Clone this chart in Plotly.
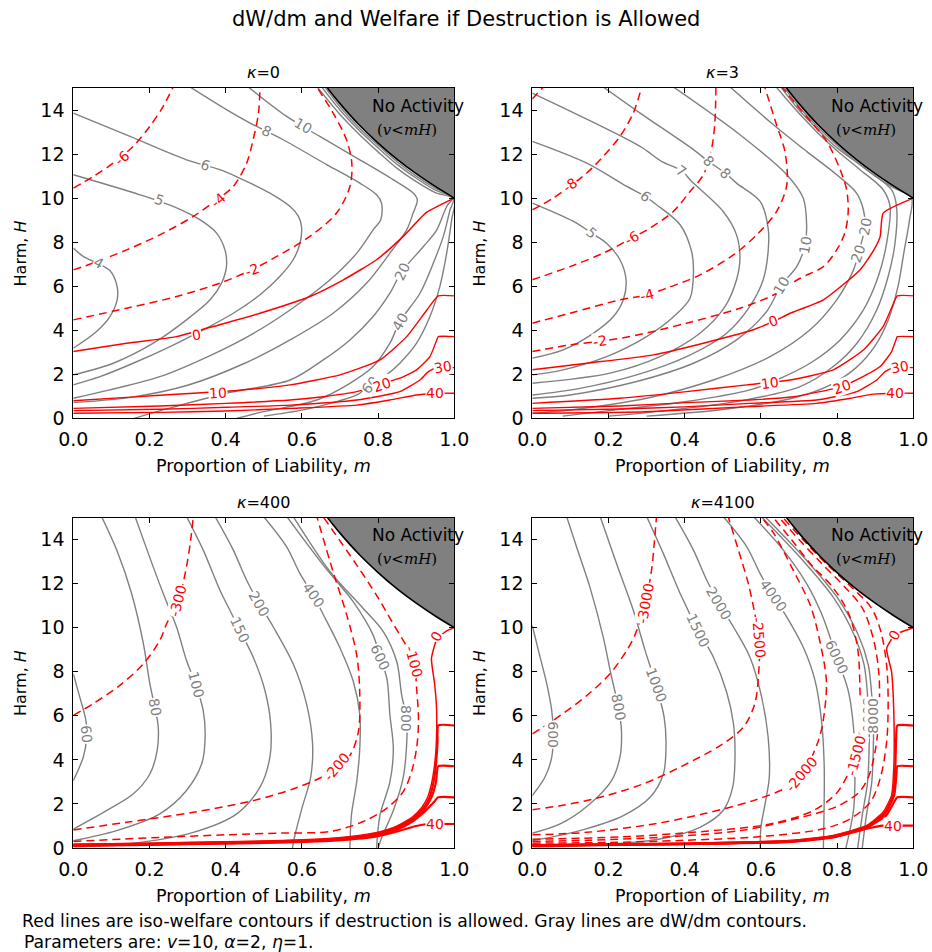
import plotly.graph_objects as go

# ---------------------------------------------------------------- data
# Every contour: (level text, m values, H values).
M_TICKS = [0.0, 0.2, 0.4, 0.6, 0.8, 1.0]
M_TICK_TEXT = ["0.0", "0.2", "0.4", "0.6", "0.8", "1.0"]
H_TICKS = [0, 2, 4, 6, 8, 10, 12, 14]
H_TICK_TEXT = ["0", "2", "4", "6", "8", "10", "12", "14"]
PANEL_TITLES = ["<i>κ</i>=0", "<i>κ</i>=3", "<i>κ</i>=400", "<i>κ</i>=4100"]

NO_ACT_M = [0.667, 0.7, 0.75, 0.8, 0.85, 0.9, 0.95, 1.0]
NO_ACT_H = [15.0, 14.29, 13.33, 12.5, 11.76, 11.11, 10.53, 10.0]

# ---- kappa = 0
K0_RED_DASHED = [
    ("-6", [0, 0.052, 0.105, 0.157, 0.201, 0.236, 0.262],
           [10.45, 10.98, 11.59, 12.35, 13.26, 14.17, 15.05]),
    ("-4", [0, 0.052, 0.14, 0.227, 0.315, 0.376, 0.42, 0.455, 0.472, 0.486, 0.49],
           [6.74, 7.05, 7.65, 8.33, 9.17, 9.92, 10.53, 11.59, 12.65, 13.86, 15.05]),
    ("-2", [0, 0.14, 0.271, 0.385, 0.468, 0.534, 0.621, 0.691, 0.726, 0.731, 0.717, 0.682, 0.639],
           [4.47, 5.0, 5.53, 6.14, 6.74, 7.35, 8.26, 9.32, 10.53, 11.59, 12.65, 13.86, 15.05]),
]
K0_RED_SOLID = [
    ("0", [0, 0.14, 0.271, 0.367, 0.49, 0.621, 0.709, 0.796, 0.866, 0.927, 1.0],
          [3.03, 3.41, 3.71, 4.17, 4.77, 5.53, 6.29, 7.2, 8.26, 9.35, 10.0]),
    ("10", [0, 0.14, 0.315, 0.429, 0.569, 0.70, 0.805, 0.875, 0.928, 0.958, 1.0],
           [0.8, 0.95, 1.14, 1.26, 1.52, 1.97, 2.65, 3.71, 4.92, 5.56, 5.56]),
    ("20", [0, 0.227, 0.402, 0.569, 0.656, 0.744, 0.814, 0.857, 0.901, 0.936, 0.954, 0.958, 1.0],
           [0.45, 0.56, 0.68, 0.83, 0.98, 1.21, 1.59, 1.82, 2.2, 2.8, 3.56, 3.71, 3.71]),
    ("30", [0, 0.227, 0.402, 0.569, 0.744, 0.857, 0.91, 0.932, 0.955, 1.0],
           [0.35, 0.41, 0.5, 0.6, 0.83, 1.21, 1.74, 2.12, 2.3, 2.3]),
    ("40", [0, 0.227, 0.4, 0.569, 0.744, 0.831, 0.901, 0.95, 1.0],
           [0.23, 0.27, 0.33, 0.45, 0.6, 0.83, 1.06, 1.14, 1.14]),
]
K0_GRAY = [
    ("4", [0, 0.026, 0.096, 0.115, 0.115, 0.096, 0.061, 0],
          [7.73, 7.35, 6.71, 5.98, 5.38, 4.62, 3.94, 3.18]),
    ("5", [0, 0.175, 0.262, 0.332, 0.376, 0.398, 0.402, 0.389, 0.359, 0.297, 0.21, 0.105, 0],
          [11.06, 10.15, 9.62, 9.02, 8.41, 7.65, 6.89, 6.14, 5.38, 4.47, 3.41, 2.5, 1.97]),
    ("6", [0, 0.149, 0.297, 0.385, 0.446, 0.516, 0.569, 0.591, 0.599, 0.595, 0.577, 0.542,
           0.49, 0.42, 0.341, 0.254, 0.157, 0.07, 0],
          [13.86, 12.8, 11.74, 11.29, 10.83, 10.23, 9.62, 9.17, 8.71, 7.95, 7.2, 6.44,
           5.61, 4.77, 4.02, 3.26, 2.5, 1.89, 1.52]),
    ("8", [0.306, 0.402, 0.464, 0.551, 0.665, 0.752, 0.796, 0.809, 0.807, 0.787, 0.744, 0.674,
           0.569, 0.472, 0.359, 0.227, 0.096, 0],
          [15.05, 14.02, 13.41, 12.65, 11.52, 10.68, 10.15, 9.77, 9.02, 8.56, 7.5, 6.29,
           4.92, 3.85, 2.85, 1.89, 1.29, 0.91]),
    ("10", [0.459, 0.56, 0.647, 0.752, 0.84, 0.892, 0.903, 0.892, 0.875, 0.831, 0.77, 0.682,
            0.569, 0.45, 0.3, 0.15, 0],
           [15.05, 13.71, 12.8, 11.74, 10.83, 10.23, 9.92, 9.32, 8.56, 7.5, 6.14, 4.77,
            3.56, 2.5, 1.5, 0.95, 0.71]),
    ("20", [0.64, 0.7, 0.75, 0.8, 0.85, 0.9, 0.95, 0.995, 0.98, 0.954, 0.919, 0.862, 0.831,
            0.787, 0.726, 0.656, 0.569, 0.402, 0.25, 0.16],
           [15.05, 13.8, 12.9, 12.1, 11.35, 10.75, 10.25, 10.0, 9.62, 8.56, 7.8, 6.66, 5.68,
            4.62, 3.56, 2.65, 1.74, 1.14, 0.45, 0]),
    ("40", [0.652, 0.7, 0.75, 0.8, 0.85, 0.9, 0.95, 0.998, 0.989, 0.971, 0.945, 0.91, 0.857,
            0.831, 0.787, 0.726, 0.639, 0.5, 0.43],
           [15.05, 14.0, 13.08, 12.28, 11.53, 10.9, 10.36, 10.0, 9.47, 8.25, 7.05, 5.68, 4.39,
            3.41, 2.35, 1.59, 0.83, 0.3, 0]),
    ("60", [0.66, 0.7, 0.75, 0.8, 0.85, 0.9, 0.95, 1.0, 0.993, 0.98, 0.962, 0.936, 0.901,
            0.857, 0.822, 0.779, 0.744, 0.674, 0.604, 0.5],
           [15.05, 14.15, 13.2, 12.4, 11.65, 11.0, 10.45, 10.0, 9.01, 7.5, 5.98, 4.62, 3.41,
            2.5, 1.97, 1.52, 1.06, 0.68, 0.38, 0.1]),
]
K0_RED_LABELS = [("-6", 0.127, 11.82, -40), ("-4", 0.381, 9.92, -40), ("-2", 0.468, 6.74, -20),
                 ("0", 0.324, 3.8, -8), ("10", 0.381, 1.17, -3), ("20", 0.809, 1.52, -20),
                 ("30", 0.971, 2.32, -10), ("40", 0.949, 1.14, 0)]
K0_GRAY_LABELS = [("4", 0.066, 7.05, 30), ("5", 0.227, 9.92, 20), ("6", 0.346, 11.5, 20),
                  ("8", 0.507, 13.03, 25), ("10", 0.604, 13.26, 30), ("20", 0.862, 6.66, -65),
                  ("40", 0.857, 4.39, -60), ("60", 0.779, 1.52, -50)]

# ---- kappa = 3
K3_RED_DASHED = [
    ("-10", [0, 0.029], [14.5, 15.05]),
    ("-8", [0, 0.055, 0.143, 0.186, 0.23, 0.265, 0.287],
           [9.47, 10.0, 11.14, 11.89, 12.8, 13.86, 15.05]),
    ("-6", [0, 0.099, 0.186, 0.261, 0.309, 0.37, 0.414, 0.449, 0.471, 0.479, 0.482],
           [6.29, 6.89, 7.5, 8.18, 8.64, 9.39, 10.3, 11.06, 12.27, 13.41, 15.05]),
    ("-4", [0, 0.099, 0.23, 0.3, 0.353, 0.44, 0.528, 0.589, 0.641, 0.668, 0.663, 0.641, 0.61],
           [4.32, 4.77, 5.38, 5.6, 5.91, 6.51, 7.42, 8.33, 9.39, 10.6, 12.12, 13.33, 15.05]),
    ("-2", [0, 0.099, 0.178, 0.256, 0.405, 0.545, 0.633, 0.703, 0.764, 0.799, 0.82, 0.829,
            0.825, 0.808, 0.773, 0.73, 0.69, 0.655],
           [3.03, 3.33, 3.5, 3.71, 4.32, 5.0, 5.6, 6.36, 6.89, 7.65, 8.41, 9.32,
            10.38, 11.29, 12.57, 13.5, 14.3, 15.05]),
]
K3_RED_SOLID = [
    ("0", [0, 0.143, 0.318, 0.449, 0.58, 0.633, 0.677, 0.764, 0.86, 0.895, 0.913, 0.921, 1.0],
          [2.2, 2.5, 2.88, 3.41, 4.02, 4.4, 4.77, 5.38, 6.74, 7.6, 8.25, 9.32, 10.0]),
    ("10", [0, 0.23, 0.405, 0.563, 0.677, 0.79, 0.869, 0.921, 0.95, 0.958, 1.0],
           [0.68, 0.91, 1.21, 1.52, 1.74, 2.2, 3.1, 4.17, 5.3, 5.56, 5.56]),
    ("20", [0, 0.23, 0.405, 0.571, 0.685, 0.755, 0.812, 0.86, 0.913, 0.943, 0.956, 0.958, 1.0],
           [0.45, 0.56, 0.71, 0.83, 0.98, 1.21, 1.44, 1.82, 2.35, 3.03, 3.64, 3.71, 3.71]),
    ("30", [0, 0.23, 0.4, 0.571, 0.746, 0.852, 0.904, 0.926, 0.95, 1.0],
           [0.35, 0.42, 0.52, 0.68, 0.83, 1.21, 1.74, 2.12, 2.3, 2.3]),
    ("40", [0, 0.3, 0.571, 0.746, 0.836, 0.895, 0.95, 1.0],
           [0.23, 0.3, 0.53, 0.68, 0.91, 1.1, 1.14, 1.14]),
]
K3_GRAY = [
    ("5", [0, 0.108, 0.156, 0.195, 0.23, 0.246, 0.239, 0.213, 0.16, 0.081, 0],
          [9.77, 8.94, 8.41, 7.95, 7.2, 6.29, 5.38, 4.62, 3.86, 3.11, 2.73]),
    ("6", [0, 0.143, 0.248, 0.296, 0.326, 0.388, 0.418, 0.423, 0.414, 0.37, 0.3, 0.195, 0.081, 0],
          [12.58, 11.59, 10.53, 10.08, 9.7, 8.79, 7.58, 6.67, 5.45, 4.6, 3.71, 2.8, 2.2, 1.97]),
    ("7", [0, 0.283, 0.339, 0.392, 0.418, 0.501, 0.536, 0.545, 0.536, 0.506, 0.44, 0.335, 0.204, 0],
          [14.77, 12.35, 11.67, 11.24, 10.76, 9.39, 8.33, 7.27, 6.29, 5.08, 3.86, 2.8, 2.05, 1.59]),
    ("8", [0.186, 0.283, 0.423, 0.462, 0.506, 0.536, 0.598, 0.619, 0.619, 0.606, 0.571, 0.51,
           0.405, 0.274, 0.125, 0],
          [15.05, 13.86, 12.2, 11.67, 11.14, 10.68, 9.85, 8.64, 7.58, 6.29, 5.08, 3.86,
           2.8, 1.97, 1.36, 1.06]),
    ("10", [0.37, 0.545, 0.668, 0.711, 0.72, 0.716, 0.694, 0.654, 0.615, 0.536, 0.423, 0.274, 0.099, 0],
           [15.05, 12.88, 11.06, 10.0, 8.79, 7.88, 6.89, 6.06, 4.85, 3.56, 2.5, 1.67, 1.06, 0.91]),
    ("20", [0.519, 0.633, 0.72, 0.799, 0.851, 0.869, 0.873, 0.856, 0.843, 0.799, 0.729, 0.624,
            0.475, 0.3, 0.099, 0],
           [15.05, 13.33, 12.12, 11.06, 10.23, 9.47, 8.71, 7.5, 6.74, 5.38, 4.02, 2.8,
            1.74, 0.91, 0.38, 0.23]),
    ("", [0.64, 0.7, 0.75, 0.8, 0.86, 0.921, 0.939, 0.93, 0.908, 0.869, 0.808, 0.729, 0.641,
          0.571, 0.4, 0.2, 0.08],
         [15.05, 13.85, 12.95, 12.15, 11.29, 10.38, 9.62, 7.95, 6.44, 4.92, 3.56, 2.5, 1.74,
          1.29, 0.75, 0.35, 0.1]),
    ("", [0.652, 0.7, 0.75, 0.8, 0.878, 0.943, 0.956, 0.952, 0.934, 0.904, 0.852, 0.79, 0.703,
          0.55, 0.35, 0.2],
         [15.05, 14.0, 13.1, 12.28, 11.29, 10.38, 9.62, 7.95, 6.44, 4.92, 3.41, 2.35, 1.44,
          0.8, 0.35, 0.1]),
    ("", [0.66, 0.7, 0.75, 0.8, 0.85, 0.9, 0.95, 0.995, 0.99, 0.975, 0.96, 0.935, 0.9, 0.85,
          0.78, 0.68, 0.5, 0.3],
         [15.05, 14.15, 13.22, 12.4, 11.65, 11.0, 10.45, 10.02, 9.0, 7.5, 6.0, 4.5, 3.3, 2.3,
          1.5, 0.9, 0.4, 0.1]),
]
K3_RED_LABELS = [("-8", 0.099, 10.6, -35), ("-6", 0.261, 8.18, -30), ("-4", 0.3, 5.6, -15),
                 ("-2", 0.178, 3.5, -8), ("0", 0.633, 4.4, -20), ("10", 0.624, 1.59, -8),
                 ("20", 0.812, 1.44, -20), ("30", 0.965, 2.35, -10), ("40", 0.952, 1.14, 0)]
K3_GRAY_LABELS = [("5", 0.156, 8.41, 40), ("6", 0.296, 10.08, 40), ("7", 0.392, 11.24, 35),
                  ("8", 0.462, 11.67, 45), ("8", 0.506, 11.14, 45), ("10", 0.716, 7.88, -80),
                  ("10", 0.654, 6.06, -60), ("20", 0.873, 8.71, -80), ("20", 0.856, 7.5, -70)]

# ---- kappa = 400
K400_RED_DASHED = [
    ("-300", [0, 0.052, 0.122, 0.184, 0.227, 0.245, 0.276, 0.297, 0.308, 0.315],
             [6.02, 6.55, 7.38, 8.36, 9.42, 10.18, 11.24, 12.76, 13.97, 15.05]),
    ("-200", [0, 0.14, 0.315, 0.472, 0.577, 0.65, 0.691, 0.726, 0.748, 0.752, 0.744, 0.718, 0.682, 0.639],
             [0.82, 1.17, 1.62, 2.15, 2.68, 3.2, 3.67, 4.2, 5.26, 6.93, 8.74, 10.56, 12.53, 15.05]),
    ("-100", [0, 0.227, 0.402, 0.55, 0.674, 0.761, 0.823, 0.866, 0.888, 0.901, 0.906, 0.901,
              0.893, 0.831, 0.796, 0.744, 0.655],
             [0.3, 0.48, 0.6, 0.68, 0.75, 1.2, 1.81, 2.56, 3.47, 4.53, 5.75, 7.26,
              8.47, 10.43, 11.47, 12.84, 15.05]),
]
K400_RED_SOLID = [
    ("0", [0, 0.2, 0.4, 0.55, 0.66, 0.74, 0.8, 0.85, 0.89, 0.915, 0.93, 0.94, 0.947, 0.952,
           0.954, 0.953, 0.948, 0.94, 0.955, 0.98, 1.0],
          [0.17, 0.22, 0.28, 0.34, 0.42, 0.55, 0.72, 1.0, 1.4, 1.85, 2.3, 2.9, 3.6, 4.5,
           5.5, 6.5, 7.5, 8.6, 9.5, 9.85, 10.0]),
    ("10", [0, 0.2, 0.4, 0.55, 0.66, 0.74, 0.8, 0.85, 0.89, 0.918, 0.935, 0.945, 0.952, 0.956, 0.958, 1.0],
           [0.15, 0.2, 0.26, 0.31, 0.39, 0.51, 0.67, 0.94, 1.33, 1.8, 2.3, 2.95, 3.8, 4.8, 5.56, 5.56]),
    ("20", [0, 0.2, 0.4, 0.55, 0.66, 0.74, 0.8, 0.85, 0.89, 0.92, 0.94, 0.952, 0.958, 1.0],
           [0.13, 0.18, 0.24, 0.29, 0.36, 0.48, 0.63, 0.88, 1.26, 1.72, 2.3, 3.0, 3.71, 3.71]),
    ("30", [0, 0.2, 0.4, 0.55, 0.66, 0.74, 0.8, 0.85, 0.89, 0.922, 0.945, 0.958, 1.0],
           [0.11, 0.16, 0.22, 0.27, 0.34, 0.45, 0.59, 0.83, 1.2, 1.65, 2.05, 2.3, 2.3]),
    ("40", [0, 0.2, 0.4, 0.55, 0.66, 0.74, 0.8, 0.85, 0.9, 0.93, 1.0],
           [0.09, 0.14, 0.2, 0.25, 0.31, 0.41, 0.54, 0.75, 1.0, 1.09, 1.09]),
]
K400_GRAY = [
    ("60", [0, 0.017, 0.033, 0.035, 0.026, 0], [7.91, 6.85, 5.8, 5.0, 4.12, 3.06]),
    ("80", [0.074, 0.114, 0.153, 0.184, 0.201, 0.214, 0.223, 0.22, 0.201, 0.157, 0.087, 0],
           [15.05, 13.52, 11.55, 9.27, 7.45, 6.39, 5.48, 4.42, 3.36, 2.45, 1.7, 0.86]),
    ("100", [0.162, 0.197, 0.236, 0.271, 0.297, 0.322, 0.341, 0.346, 0.337, 0.297, 0.227, 0.114, 0],
            [15.05, 13.36, 11.55, 10.03, 8.52, 7.38, 6.24, 5.03, 3.82, 2.61, 1.55, 0.79, 0.33]),
    ("150", [0.297, 0.341, 0.385, 0.411, 0.437, 0.472, 0.503, 0.518, 0.516, 0.49, 0.429, 0.315, 0.14, 0],
            [15.05, 13.52, 11.7, 10.79, 9.88, 8.67, 7.15, 5.64, 4.12, 2.76, 1.55, 0.71, 0.18, 0.06]),
    ("200", [0.372, 0.42, 0.455, 0.488, 0.525, 0.577, 0.612, 0.628, 0.623, 0.6, 0.582, 0.575],
            [15.05, 13.52, 12.15, 11.09, 10.03, 8.36, 6.55, 4.73, 3.21, 1.8, 0.6, 0]),
    ("400", [0.499, 0.56, 0.595, 0.63, 0.656, 0.7, 0.735, 0.752, 0.752, 0.744, 0.73, 0.726],
            [15.05, 13.67, 12.45, 11.47, 10.6, 9.08, 7.56, 6.05, 4.55, 3.03, 1.5, 0]),
    ("600", [0.56, 0.656, 0.735, 0.787, 0.805, 0.823, 0.831, 0.84, 0.831, 0.805, 0.796],
            [15.05, 12.84, 11.17, 9.66, 8.67, 7.7, 6.05, 4.5, 3.0, 1.5, 0]),
    ("800", [0.577, 0.674, 0.761, 0.814, 0.849, 0.862, 0.875, 0.875, 0.866, 0.84, 0.81, 0.8],
            [15.05, 12.54, 10.87, 9.81, 8.45, 6.93, 5.87, 4.73, 3.21, 1.7, 0.5, 0]),
]
K400_RED_LABELS = [("-300", 0.276, 11.24, -75), ("-200", 0.691, 3.67, -50),
                   ("-100", 0.893, 8.47, 75), ("0", 0.954, 9.61, -60), ("40", 0.949, 1.09, 0)]
K400_GRAY_LABELS = [("60", 0.035, 5.18, 85), ("80", 0.214, 6.39, 80), ("100", 0.322, 7.38, 75),
                    ("150", 0.437, 9.88, 65), ("200", 0.488, 11.09, 60), ("400", 0.63, 11.47, 55),
                    ("600", 0.805, 8.67, 65), ("800", 0.875, 5.87, 90)]

# ---- kappa = 4100
K4100_RED_DASHED = [
    ("-3000", [0, 0.055, 0.143, 0.204, 0.248, 0.269, 0.296, 0.313, 0.32, 0.326],
              [5.18, 5.79, 6.92, 7.91, 8.97, 9.65, 11.09, 12.61, 13.82, 15.05]),
    ("-2500", [0, 0.073, 0.178, 0.291, 0.396, 0.493, 0.554, 0.584, 0.594, 0.596, 0.584, 0.567, 0.541, 0.514],
              [1.74, 1.92, 2.3, 2.91, 3.74, 4.65, 5.48, 6.55, 7.91, 9.55, 10.64, 12.0, 13.52, 15.05]),
    ("-2000", [0, 0.143, 0.318, 0.449, 0.58, 0.668, 0.707, 0.729, 0.751, 0.763, 0.772, 0.755,
               0.73, 0.685, 0.633, 0.6],
              [0.6, 0.71, 1.09, 1.55, 2.15, 2.76, 3.36, 3.97, 4.88, 5.72, 7.54, 9.36,
               11.0, 12.6, 14.3, 15.05]),
    ("-1500", [0, 0.23, 0.449, 0.624, 0.738, 0.799, 0.829, 0.851, 0.86, 0.86, 0.854, 0.832,
               0.79, 0.73, 0.68, 0.63],
              [0.4, 0.5, 0.75, 1.09, 1.7, 2.5, 3.36, 4.2, 5.5, 7.24, 9.05, 10.57,
               11.8, 12.9, 14.0, 15.05]),
    ("-1000", [0, 0.15, 0.35, 0.55, 0.726, 0.805, 0.858, 0.884, 0.901, 0.91, 0.91, 0.897,
               0.867, 0.82, 0.76, 0.7, 0.645],
              [0.3, 0.35, 0.5, 0.8, 1.48, 1.93, 2.54, 3.3, 4.51, 6.02, 7.84, 9.36,
               10.87, 11.85, 12.9, 14.0, 15.05]),
    ("-500", [0, 0.2, 0.4, 0.6, 0.764, 0.835, 0.887, 0.913, 0.93, 0.934, 0.93, 0.915, 0.89,
              0.84, 0.775, 0.71, 0.655],
             [0.22, 0.25, 0.35, 0.52, 0.87, 1.33, 2.08, 3.15, 4.81, 6.63, 8.3, 9.81, 10.9,
              11.8, 12.85, 14.0, 15.05]),
]
K4100_RED_SOLID = [
    ("0", [0, 0.4, 0.677, 0.79, 0.878, 0.921, 0.943, 0.949, 0.949, 0.943, 0.93, 0.951, 0.975, 1.0],
          [0.15, 0.22, 0.34, 0.57, 1.02, 1.63, 2.39, 3.75, 6.02, 7.99, 9.05, 9.66, 9.85, 10.0]),
    ("10", [0, 0.4, 0.677, 0.79, 0.878, 0.925, 0.947, 0.953, 0.955, 0.958, 1.0],
           [0.13, 0.2, 0.32, 0.54, 0.98, 1.6, 2.4, 3.75, 5.0, 5.56, 5.56]),
    ("20", [0, 0.4, 0.677, 0.79, 0.878, 0.927, 0.95, 0.956, 0.958, 1.0],
           [0.12, 0.19, 0.3, 0.52, 0.95, 1.58, 2.4, 3.4, 3.71, 3.71]),
    ("30", [0, 0.4, 0.677, 0.79, 0.878, 0.93, 0.95, 0.958, 1.0],
           [0.11, 0.18, 0.29, 0.5, 0.92, 1.5, 2.1, 2.3, 2.3]),
    ("40", [0, 0.4, 0.677, 0.79, 0.878, 0.92, 0.95, 1.0],
           [0.1, 0.17, 0.28, 0.48, 0.88, 1.02, 1.02, 1.02]),
]
K4100_GRAY = [
    ("600", [0, 0.016, 0.038, 0.051, 0.055, 0.051, 0.033, 0],
            [10.1, 8.97, 7.45, 6.24, 5.15, 4.12, 3.21, 2.38]),
    ("800", [0.09, 0.116, 0.151, 0.186, 0.208, 0.226, 0.234, 0.23, 0.208, 0.151, 0.073, 0],
            [15.05, 13.67, 11.85, 9.58, 7.76, 6.39, 5.33, 4.12, 3.06, 2.0, 1.09, 0.67]),
    ("1000", [0.178, 0.221, 0.265, 0.296, 0.325, 0.346, 0.351, 0.344, 0.309, 0.239, 0.125, 0],
             [15.05, 12.91, 10.79, 8.97, 7.38, 5.94, 4.73, 3.36, 2.3, 1.47, 0.79, 0.33]),
    ("1500", [0.3, 0.344, 0.388, 0.436, 0.475, 0.51, 0.528, 0.532, 0.526, 0.501, 0.44, 0.335, 0.143, 0],
             [15.05, 13.36, 11.55, 9.85, 8.67, 7.08, 5.64, 4.12, 2.76, 1.7, 0.94, 0.41, 0.11, 0.05]),
    ("2000", [0.374, 0.423, 0.458, 0.491, 0.528, 0.571, 0.602, 0.619, 0.622, 0.611, 0.6, 0.598],
             [15.05, 13.52, 12.15, 11.09, 10.03, 8.67, 6.85, 5.03, 3.21, 2.0, 0.94, 0]),
    ("4000", [0.501, 0.563, 0.598, 0.633, 0.668, 0.711, 0.742, 0.759, 0.766, 0.766, 0.764],
             [15.05, 13.67, 12.45, 11.42, 10.48, 9.12, 7.61, 5.79, 3.82, 2.0, 0]),
    ("6000", [0.58, 0.659, 0.72, 0.759, 0.799, 0.829, 0.843, 0.847, 0.843, 0.823],
             [15.05, 13.52, 12.0, 10.64, 8.67, 7.15, 5.48, 3.52, 1.7, 0]),
    ("8000", [0.6, 0.705, 0.792, 0.845, 0.871, 0.88, 0.884, 0.884, 0.88, 0.866, 0.854],
             [15.05, 13.15, 11.33, 9.66, 8.3, 6.93, 6.02, 4.51, 2.99, 1.48, 0]),
    ("8000", [0.61, 0.715, 0.802, 0.856, 0.882, 0.891, 0.895, 0.895, 0.891, 0.877, 0.866],
             [15.05, 13.15, 11.33, 9.66, 8.3, 6.93, 6.02, 4.51, 2.99, 1.48, 0]),
]
K4100_RED_LABELS = [("-3000", 0.296, 11.09, -80), ("-2500", 0.596, 9.55, 85),
                    ("-2000", 0.707, 3.36, -50), ("-1500", 0.851, 4.2, -75),
                    ("0", 0.951, 9.66, -60), ("40", 0.947, 1.02, 0)]
K4100_GRAY_LABELS = [("600", 0.055, 5.15, 90), ("800", 0.226, 6.39, 80), ("1000", 0.325, 7.38, 70),
                     ("1500", 0.436, 9.85, 65), ("2000", 0.491, 11.09, 60), ("4000", 0.633, 11.42, 55),
                     ("6000", 0.799, 8.67, 65), ("8000", 0.879, 6.02, 90), ("8000", 0.895, 6.02, -90)]

PANELS = [
    (K0_GRAY, K0_RED_DASHED, K0_RED_SOLID, K0_GRAY_LABELS, K0_RED_LABELS),
    (K3_GRAY, K3_RED_DASHED, K3_RED_SOLID, K3_GRAY_LABELS, K3_RED_LABELS),
    (K400_GRAY, K400_RED_DASHED, K400_RED_SOLID, K400_GRAY_LABELS, K400_RED_LABELS),
    (K4100_GRAY, K4100_RED_DASHED, K4100_RED_SOLID, K4100_GRAY_LABELS, K4100_RED_LABELS),
]

# ---------------------------------------------------------------- layout / styling
W, HGT = 932, 952
FONT = "DejaVu Sans"
GRAY = "#808080"
RED = "#ff0000"
# plot areas in pixels: (left, right, top, bottom)
BOXES = [(73.3, 454.3, 88.0, 418.3), (532.3, 913.3, 88.0, 418.3),
         (73.3, 454.3, 517.5, 848.0), (532.3, 913.3, 517.5, 848.0)]


def px(x):
    return x / W


def py(y):
    return 1 - y / HGT


def text_ann(text, x, y, size, **kw):
    d = dict(text=text, x=px(x), y=py(y), xref="paper", yref="paper", showarrow=False,
             xanchor="center", yanchor="middle",
             font=dict(family=FONT, size=size, color="black"))
    d.update(kw)
    return d


fig = go.Figure()
annotations = []
layout_axes = {}

for i, (box, panel) in enumerate(zip(BOXES, PANELS)):
    n = i + 1
    sfx = "" if n == 1 else str(n)
    xa, ya = "x" + sfx, "y" + sfx
    gray, rdash, rsolid, glabels, rlabels = panel
    band_width = 2.2 if n >= 3 else 1.4

    for _, m, h in gray:
        fig.add_trace(go.Scatter(x=m, y=h, mode="lines", xaxis=xa, yaxis=ya,
                                 line=dict(color=GRAY, width=1.4, shape="spline", smoothing=0.9),
                                 hoverinfo="skip", showlegend=False))
    for _, m, h in rdash:
        fig.add_trace(go.Scatter(x=m, y=h, mode="lines", xaxis=xa, yaxis=ya,
                                 line=dict(color=RED, width=1.5, dash="8px,5px",
                                           shape="spline", smoothing=0.9),
                                 hoverinfo="skip", showlegend=False))
    for j, (_, m, h) in enumerate(rsolid):
        fig.add_trace(go.Scatter(x=m, y=h, mode="lines", xaxis=xa, yaxis=ya,
                                 line=dict(color=RED, width=(1.5 if j == 0 else band_width),
                                           shape="spline", smoothing=0.5),
                                 hoverinfo="skip", showlegend=False))
    # no-activity region
    fig.add_trace(go.Scatter(x=NO_ACT_M + [1.0, 0.667], y=NO_ACT_H + [15.0, 15.0],
                             mode="lines", fill="toself", fillcolor="#808080",
                             line=dict(width=0), xaxis=xa, yaxis=ya,
                             hoverinfo="skip", showlegend=False))
    fig.add_trace(go.Scatter(x=NO_ACT_M, y=NO_ACT_H, mode="lines", xaxis=xa, yaxis=ya,
                             line=dict(color="black", width=1.6, shape="spline"),
                             hoverinfo="skip", showlegend=False))

    l, r, t, b = box
    axis_common = dict(showline=True, linecolor="black", linewidth=1, mirror="ticks",
                       ticks="inside", ticklen=5, tickcolor="black", showgrid=False,
                       zeroline=False, tickfont=dict(family=FONT, size=19, color="black"),
                       ticklabelstandoff=4, fixedrange=True, automargin=False)
    layout_axes["xaxis" + sfx] = dict(domain=[px(l), px(r)], range=[0, 1], anchor=ya,
                                      tickvals=M_TICKS, ticktext=M_TICK_TEXT, **axis_common)
    layout_axes["yaxis" + sfx] = dict(domain=[py(b), py(t)], range=[0, 15], anchor=xa,
                                      tickvals=H_TICKS, ticktext=H_TICK_TEXT, **axis_common)

    for text, m, h, ang in glabels:
        annotations.append(dict(text=text, x=m, y=h, xref=xa, yref=ya, showarrow=False,
                                xanchor="center", yanchor="middle",
                                textangle=ang, bgcolor="white", borderpad=0,
                                font=dict(family=FONT, size=14, color=GRAY)))
    for text, m, h, ang in rlabels:
        annotations.append(dict(text=text, x=m, y=h, xref=xa, yref=ya, showarrow=False,
                                xanchor="center", yanchor="middle",
                                textangle=ang, bgcolor="white", borderpad=0,
                                font=dict(family=FONT, size=14, color=RED)))
    # no activity text
    annotations.append(dict(text="No Activity", x=0.78, y=14.2, xref=xa, yref=ya,
                            xanchor="left", yanchor="middle", showarrow=False,
                            font=dict(family=FONT, size=17, color="black")))
    annotations.append(dict(text="(<i>v</i><<i>mH</i>)", x=0.876, y=13.1, xref=xa, yref=ya,
                            xanchor="center", yanchor="middle", showarrow=False,
                            font=dict(family="DejaVu Serif", size=15, color="black")))
    # panel title, axis titles
    cx = (l + r) / 2
    annotations.append(text_ann(PANEL_TITLES[i], cx, t - 15, 16))
    annotations.append(text_ann("Proportion of Liability, <i>m</i>", cx, b + 48, 17.5))
    annotations.append(text_ann("Harm, <i>H</i>", l - 53, (t + b) / 2, 16, textangle=-90))

annotations.append(text_ann("dW/dm and Welfare if Destruction is Allowed", 466, 19, 21))
annotations.append(text_ann("Red lines are iso-welfare contours if destruction is allowed. "
                            "Gray lines are dW/dm contours.", 20, 921, 17.2, xanchor="left"))
annotations.append(text_ann("Parameters are: <i>v</i>=10, <i>α</i>=2, <i>η</i>=1.",
                            22, 942, 17.2, xanchor="left"))

fig.update_layout(width=W, height=HGT, margin=dict(l=0, r=0, t=0, b=0, autoexpand=False),
                  paper_bgcolor="white", plot_bgcolor="white", annotations=annotations,
                  **layout_axes)

fig.write_html("out.html", config={"displayModeBar": False},
               post_script="document.body.style.margin='0px';")
